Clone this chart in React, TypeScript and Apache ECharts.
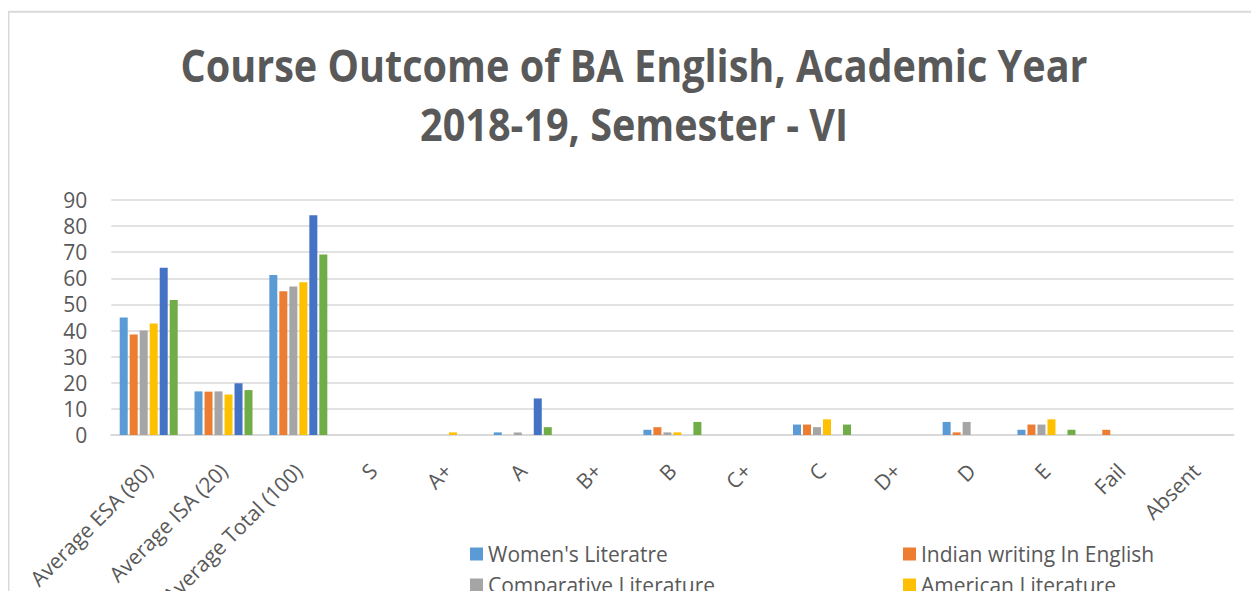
import React, { useEffect, useRef } from "react";
import * as echarts from "echarts";

const titleLines = ["Course Outcome of BA English, Academic Year", "2018-19, Semester - VI"];

const categories = [
  "Average ESA (80)",
  "Average ISA (20)",
  "Average Total (100)",
  "S",
  "A+",
  "A",
  "B+",
  "B",
  "C+",
  "C",
  "D+",
  "D",
  "E",
  "Fail",
  "Absent",
];

const seriesNames = [
  "Women's Literatre",
  "Indian writing In English",
  "Comparative Literature",
  "American Literature",
  "British Literature",
  "Literary Criticism",
];

const womensLiterature = [45, 16.7, 61.3, 0, 0, 1, 0, 2, 0, 4, 0, 5, 2, 0, 0];
const indianWriting = [38.5, 16.6, 55.1, 0, 0, 0, 0, 3, 0, 4, 0, 1, 4, 2, 0];
const comparativeLiterature = [40, 16.7, 56.9, 0, 0, 1, 0, 1, 0, 3, 0, 5, 4, 0, 0];
const americanLiterature = [42.7, 15.5, 58.5, 0, 1, 0, 0, 1, 0, 6, 0, 0, 6, 0, 0];
const britishLiterature = [64.1, 19.8, 84.2, 0, 0, 14, 0, 0, 0, 0, 0, 0, 0, 0, 0];
const literaryCriticism = [51.7, 17.2, 69.1, 0, 0, 3, 0, 5, 0, 4, 0, 0, 2, 0, 0];

const yTicks = { min: 0, max: 90, interval: 10 };

const colors = ["#5B9BD5", "#ED7D31", "#A5A5A5", "#FFC000", "#4472C4", "#70AD47"];

const seriesValues = [
  womensLiterature,
  indianWriting,
  comparativeLiterature,
  americanLiterature,
  britishLiterature,
  literaryCriticism,
];

export default function App() {
  const ref = useRef<HTMLDivElement>(null);

  useEffect(() => {
    if (!ref.current) return;
    const chart = echarts.init(ref.current, undefined, { renderer: "svg" });
    const font = "'Open Sans', sans-serif";
    const textColor = "#595959";
    chart.setOption({
      animation: false,
      color: colors,
      graphic: [
        {
          type: "line",
          shape: { x1: 0, y1: 3.7, x2: 1260, y2: 3.7 },
          style: { stroke: "#d9d9d9", lineWidth: 2 },
          silent: true,
        },
        {
          type: "line",
          shape: { x1: 0.5, y1: 3, x2: 0.5, y2: 600 },
          style: { stroke: "#d9d9d9", lineWidth: 2 },
          silent: true,
        },
        {
          type: "text",
          x: 626,
          y: 56.5,
          scaleX: 0.88,
          style: {
            text: titleLines[0],
            fontFamily: font,
            fontWeight: "bold",
            fontSize: 45,
            fill: textColor,
            align: "center",
            verticalAlign: "middle",
          },
        },
        {
          type: "text",
          x: 626,
          y: 115.5,
          scaleX: 0.88,
          style: {
            text: titleLines[1],
            fontFamily: font,
            fontWeight: "bold",
            fontSize: 45,
            fill: textColor,
            align: "center",
            verticalAlign: "middle",
          },
        },
      ],
      legend: {
        left: 462,
        top: 535.5,
        width: 870,
        padding: 0,
        orient: "horizontal",
        itemWidth: 13,
        itemHeight: 13,
        itemGap: 10,
        icon: "rect",
        textStyle: {
          fontFamily: font,
          fontSize: 21,
          color: textColor,
          width: 405,
          lineHeight: 21,
          overflow: "truncate",
        },
        data: seriesNames,
      },
      grid: {
        left: 103.3,
        right: 25.5,
        top: 192,
        bottom: 156,
        containLabel: false,
        outerBoundsMode: "none",
      },
      xAxis: {
        type: "category",
        data: categories,
        axisLine: { lineStyle: { color: "#d9d9d9", width: 2 } },
        axisTick: { show: false },
        axisLabel: {
          interval: 0,
          rotate: 45,
          margin: 32,
          fontFamily: font,
          fontSize: 21,
          color: textColor,
        },
      },
      yAxis: {
        type: "value",
        min: yTicks.min,
        max: yTicks.max,
        interval: yTicks.interval,
        axisLine: { show: false },
        axisTick: { show: false },
        splitLine: { lineStyle: { color: "#d9d9d9", width: 1.5 } },
        axisLabel: {
          margin: 24,
          fontFamily: font,
          fontSize: 21,
          color: textColor,
        },
      },
      series: seriesNames.map((name, i) => ({
        name,
        type: "bar",
        data: seriesValues[i],
        barWidth: 8,
        barGap: "25%",
        itemStyle: { color: colors[i] },
      })),
    });
    return () => chart.dispose();
  }, []);

  return <div ref={ref} style={{ width: 1251, height: 583 }} />;
}
